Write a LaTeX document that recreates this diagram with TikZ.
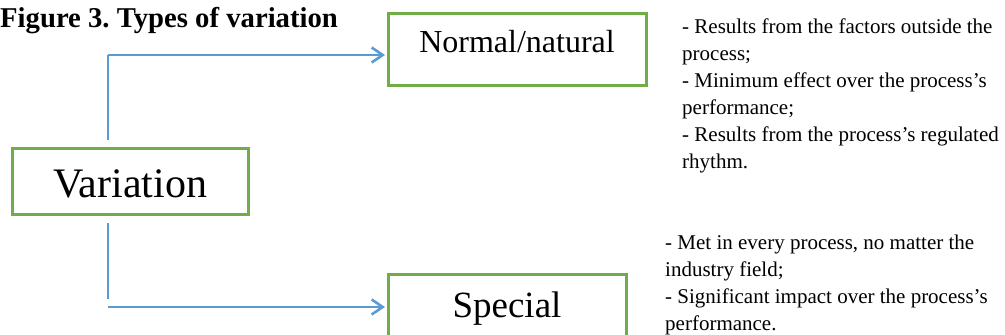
\documentclass[tikz,border=0pt]{standalone}
\usepackage{fontspec}
\setmainfont{Liberation Serif}
\usetikzlibrary{arrows.meta}
\frenchspacing
\definecolor{boxgreen}{HTML}{70AD47}
\definecolor{lineblue}{HTML}{5B9BD5}
\tikzset{
  typebox/.style={draw=boxgreen, line width=3pt, fill=white, inner sep=0pt},
  stemline/.style={draw=lineblue, line width=1.6pt},
  branch/.style={draw=lineblue, line width=2.6pt, -{Straight Barb[length=11pt,width=15pt]}},
  notes/.style={anchor=base west, align=left, inner sep=0pt, font=\fontsize{21}{27}\selectfont},
}
\begin{document}
\begin{tikzpicture}[x=1pt,y=-1pt]
\useasboundingbox (0,0) rectangle (1005,335);
\node[anchor=base west, inner sep=0pt, font=\bfseries\fontsize{28.7}{34}\selectfont] (title) at (0,27) {Figure 3. Types of variation};
\node[typebox, minimum width=236pt, minimum height=66pt, text height=32pt, text depth=0pt, font=\fontsize{42}{48}\selectfont] (var) at (130,181) {Variation};
\node[typebox, minimum width=258pt, minimum height=72pt, text height=22pt, text depth=16pt, font=\fontsize{32}{38}\selectfont] (norm) at (517,49) {Normal/natural};
\node[typebox, minimum width=238pt, minimum height=72pt, text height=25pt, text depth=11pt, font=\fontsize{37}{44}\selectfont] (spec) at (507,310) {Special};
\coordinate (v1) at (108,140);
\coordinate (c1) at (108,55);
\coordinate (v2) at (108,223);
\coordinate (b2) at (108,299);
\coordinate (c2) at (108,307);
\draw[stemline] (v1) -- (c1);
\draw[branch] (c1) -- ([xshift=-1.5pt]c1 -| norm.west);
\draw[stemline] (v2) -- (b2);
\draw[branch] (c2) -- ([xshift=-1.5pt]c2 -| spec.west);
\node[notes] (n1) at (682,168) {- Results from the factors outside the\\process;\\- Minimum effect over the process's\\performance;\\- Results from the process's regulated\\rhythm.};
\node[notes] (n2) at (665,330) {- Met in every process, no matter the\\industry field;\\- Significant impact over the process's\\performance.};
\end{tikzpicture}
\end{document}
